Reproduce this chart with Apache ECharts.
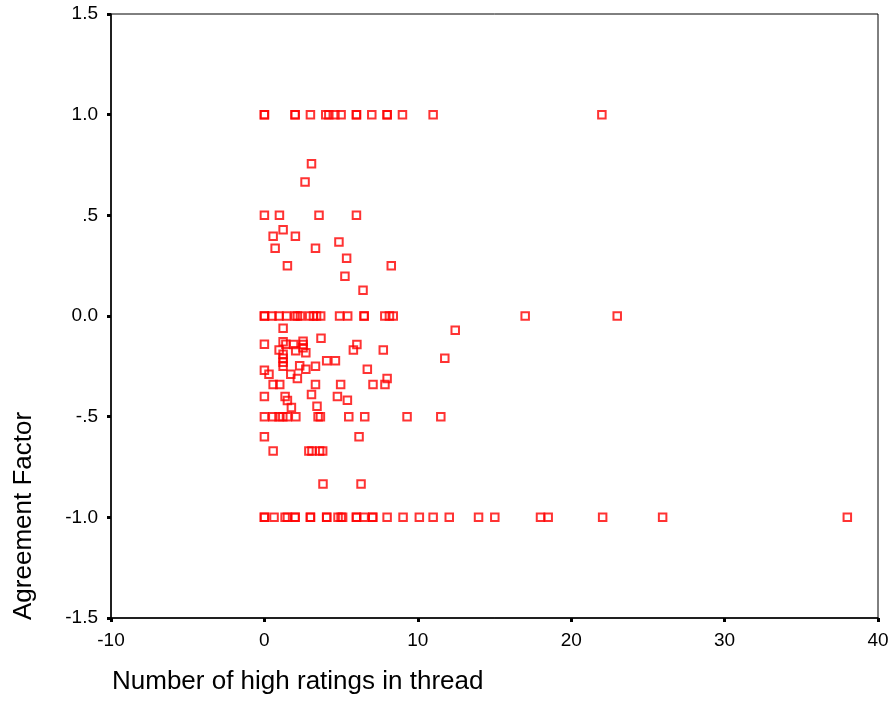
<!DOCTYPE html>
<html>
<head>
<meta charset="utf-8">
<script src="https://cdn.jsdelivr.net/npm/echarts@6/dist/echarts.min.js"></script>
<style>html,body{margin:0;padding:0;background:#fff}#chart{width:894px;height:727px}</style>
</head>
<body>
<div id="chart"></div>
<script>
// x values of points lying on the fixed agreement levels
const xAtPlusOne = [0, 0, 2, 2, 3, 4, 4.2, 4.6, 5, 6, 6, 7, 8, 8, 9, 11, 22];
const xAtZero = [0, 0, 0.5, 0.95, 1.45, 2, 2.15, 2.35, 2.95, 3.2, 3.4, 3.67, 4.9, 5.43, 6.5, 6.5, 7.85, 8.15, 8.4, 17, 23];
const xAtMinusHalf = [0, 0.55, 0.95, 1.2, 1.5, 2.05, 3.5, 3.65, 5.5, 6.54, 9.3, 11.5];
const xAtMinusOne = [0, 0, 0.63, 1.35, 1.5, 2, 2, 3, 3, 4.06, 4.06, 4.8, 5, 5.1, 6, 6, 6.5, 7.06, 7.06, 8, 9.04, 10.1, 11, 12.05, 13.96, 15.02, 18, 18.5, 22.05, 25.96, 38];
// other points
const otherX = [3.07, 2.65, 0, 0.98, 3.56, 6.0, 1.22, 0.57, 2.02, 4.86, 0.7, 3.33, 5.36, 1.5, 8.27, 5.25, 6.43,
  1.22, 12.44, 0, 1.22, 1.4, 1.9, 2.52, 2.52, 2.52, 3.69, 0.96, 2.04, 2.7, 6.03, 5.8, 7.75, 11.76,
  1.22, 1.22, 1.22, 1.22, 4.06, 4.63, 0, 0.3, 2.3, 2.7, 3.33, 1.72, 2.15, 6.71, 8.0,
  0.57, 1.0, 3.33, 4.97, 7.08, 7.86, 0, 1.35, 1.5, 1.76, 3.07, 3.43, 4.76, 5.41,
  0, 6.17, 0.57, 2.9, 3.1, 3.6, 3.8, 3.82, 6.3];
const otherY = [0.756, 0.665, 0.5, 0.5, 0.5, 0.5, 0.428, 0.396, 0.396, 0.368, 0.337, 0.337, 0.287, 0.249, 0.249, 0.197, 0.128,
  -0.061, -0.071, -0.14, -0.128, -0.14, -0.141, -0.125, -0.141, -0.158, -0.111, -0.169, -0.172, -0.182, -0.141, -0.169, -0.169, -0.21,
  -0.19, -0.21, -0.23, -0.25, -0.222, -0.222, -0.269, -0.289, -0.247, -0.264, -0.249, -0.289, -0.31, -0.264, -0.31,
  -0.34, -0.34, -0.34, -0.34, -0.34, -0.34, -0.4, -0.4, -0.42, -0.454, -0.39, -0.448, -0.4, -0.418,
  -0.6, -0.6, -0.67, -0.67, -0.67, -0.67, -0.67, -0.835, -0.835];
const yTickLabels = {'1.5':'1.5','1':'1.0','0.5':'.5','0':'0.0','-0.5':'-.5','-1':'-1.0','-1.5':'-1.5'};
const xTitle = 'Number of high ratings in thread';
const yTitle = 'Agreement Factor';

const data = [];
xAtPlusOne.forEach(x => data.push([x, 1]));
xAtZero.forEach(x => data.push([x, 0]));
xAtMinusHalf.forEach(x => data.push([x, -0.5]));
xAtMinusOne.forEach(x => data.push([x, -1]));
otherX.forEach((x, i) => data.push([x, otherY[i]]));

const font = 'Liberation Sans, Arial, sans-serif';
const chart = echarts.init(document.getElementById('chart'), null, {renderer: 'canvas'});
chart.setOption({
  animation: false,
  backgroundColor: '#fff',
  grid: {left: 111, top: 14, right: 16, bottom: 109, show: true, borderColor: '#000', borderWidth: 1},
  xAxis: {
    type: 'value', min: -10, max: 40, interval: 10,
    splitLine: {show: false},
    axisLine: {onZero: false, lineStyle: {color: '#000', width: 1.5}},
    axisTick: {length: 4, lineStyle: {color: '#000', width: 3}},
    axisLabel: {color: '#000', fontFamily: font, fontSize: 19, margin: 13}
  },
  yAxis: {
    type: 'value', min: -1.5, max: 1.5, interval: 0.5,
    splitLine: {show: false},
    axisLine: {onZero: false, lineStyle: {color: '#000', width: 1.5}},
    axisTick: {length: 4, lineStyle: {color: '#000', width: 3}},
    axisLabel: {color: '#000', fontFamily: font, fontSize: 19, margin: 13,
      formatter: v => yTickLabels[String(v)] ?? String(v)}
  },
  graphic: [
    {type: 'text', left: 112, top: 669, style: {text: xTitle, font: '26px ' + font, fill: '#000'}},
    {type: 'text', x: 11, y: 620, rotation: Math.PI / 2, style: {text: yTitle, font: '26px ' + font, fill: '#000', align: 'left', verticalAlign: 'top'}}
  ],
  series: [{
    type: 'scatter', data: data, symbol: 'rect', symbolSize: 7.5,
    itemStyle: {color: 'rgba(0,0,0,0)', borderColor: '#ff0000', borderWidth: 2}
  }]
});
</script>
</body>
</html>
